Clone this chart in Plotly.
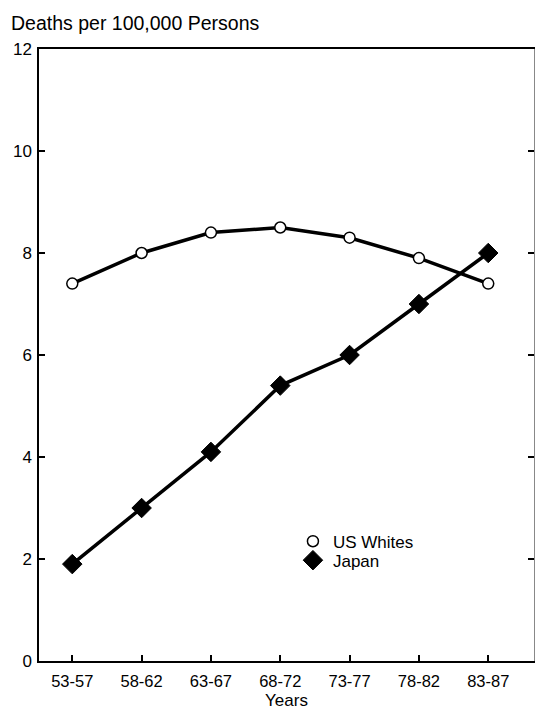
import plotly.graph_objects as go

# Five-year periods and death rates per 100,000 persons
periods = ["53-57", "58-62", "63-67", "68-72", "73-77", "78-82", "83-87"]
us_whites = [7.4, 8.0, 8.4, 8.5, 8.3, 7.9, 7.4]
japan = [1.9, 3.0, 4.1, 5.4, 6.0, 7.0, 8.0]
y_ticks = [0, 2, 4, 6, 8, 10, 12]

FONT = "Liberation Sans, Arial, Helvetica, sans-serif"
x_pos = list(range(len(periods)))

circle_marker = dict(symbol="circle", size=11, color="white",
                     line=dict(color="black", width=1.5))
diamond_marker = dict(symbol="diamond", size=15, color="black",
                      line=dict(color="black", width=1))

fig = go.Figure()

fig.add_trace(go.Scatter(
    x=x_pos, y=us_whites, mode="lines+markers", name="US Whites",
    line=dict(color="black", width=3.5), marker=circle_marker,
    showlegend=False,
))
fig.add_trace(go.Scatter(
    x=x_pos, y=japan, mode="lines+markers", name="Japan",
    line=dict(color="black", width=3.5), marker=diamond_marker,
    showlegend=False,
))

# Marker-only legend entries, one per legend box
fig.add_trace(go.Scatter(
    x=[None], y=[None], mode="markers", name="US Whites",
    marker=circle_marker, legend="legend",
))
fig.add_trace(go.Scatter(
    x=[None], y=[None], mode="markers", name="Japan",
    marker=diamond_marker, legend="legend2",
))

# Right-hand frame with inward ticks
fig.add_trace(go.Scatter(x=[None], y=[None], yaxis="y2", showlegend=False))

legend_style = dict(
    xanchor="left", yanchor="middle",
    bgcolor="rgba(0,0,0,0)", font=dict(size=17),
    itemsizing="trace",
)

fig.update_layout(
    width=535, height=710,
    margin=dict(l=39, r=1, t=49, b=49),
    paper_bgcolor="white", plot_bgcolor="white",
    font=dict(family=FONT, size=16.5, color="black"),
    xaxis=dict(
        range=[-0.48, 6.66], automargin=False,
        tickmode="array", tickvals=x_pos, ticktext=periods,
        ticks="inside", ticklen=6, tickwidth=1.5, tickcolor="black",
        showline=True, linecolor="black", linewidth=2, mirror=True,
        showgrid=False, zeroline=False,
        tickfont=dict(size=16.5), ticklabelstandoff=4,
        title=dict(text="Years", font=dict(size=17), standoff=11),
    ),
    yaxis=dict(
        range=[0, 12],
        tickmode="array", tickvals=y_ticks,
        ticks="inside", ticklen=6, tickwidth=1.5, tickcolor="black",
        showline=True, linecolor="black", linewidth=1.5,
        showgrid=False, zeroline=False,
        tickfont=dict(size=17), ticklabelstandoff=2,
    ),
    yaxis2=dict(
        overlaying="y", side="right", range=[0, 12],
        tickmode="array", tickvals=y_ticks, showticklabels=False,
        ticks="inside", ticklen=6, tickwidth=1.5, tickcolor="black",
        showline=True, linecolor="#888888", linewidth=1,
        showgrid=False, zeroline=False,
    ),
    legend=dict(x=0.513, y=0.195, **legend_style),
    legend2=dict(x=0.513, y=0.164, **legend_style),
    annotations=[dict(
        text="Deaths per 100,000 Persons", xref="paper", yref="paper",
        x=-0.06, y=1.0, xanchor="left", yanchor="bottom", yshift=13,
        showarrow=False, font=dict(size=19.5),
    )],
)

fig.write_html("out.html")
